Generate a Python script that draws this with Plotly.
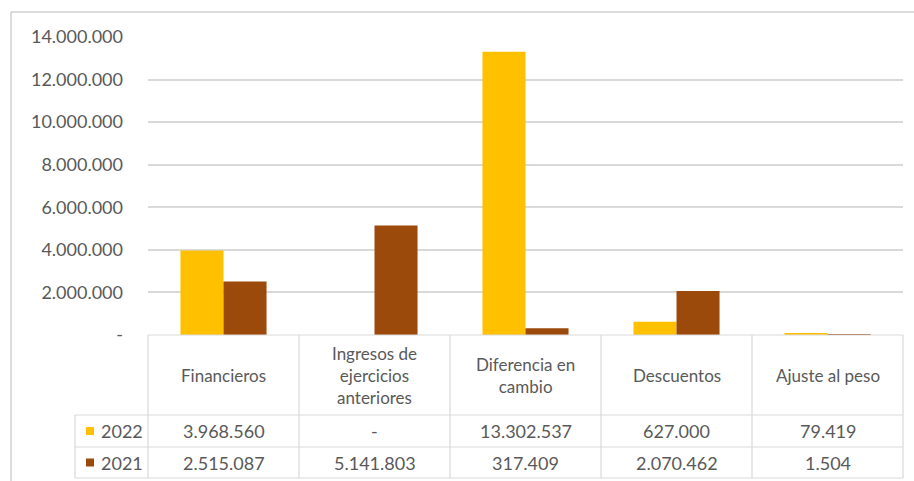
import plotly.graph_objects as go

categories = ['Financieros', 'Ingresos de ejercicios anteriores', 'Diferencia en cambio',
              'Descuentos', 'Ajuste al peso']
header_labels = ['Financieros', 'Ingresos de<br>ejercicios<br>anteriores', 'Diferencia en<br>cambio',
                 'Descuentos', 'Ajuste al peso']
years = ['2022', '2021']
values_2022 = [3968560, 0, 13302537, 627000, 79419]
values_2021 = [2515087, 5141803, 317409, 2070462, 1504]
colors = ['#FFC000', '#9C4A0C']
y_ticks = [0, 2000000, 4000000, 6000000, 8000000, 10000000, 12000000, 14000000]

W, H = 914, 481
FONT = 'Lato, Calibri, sans-serif'
TXT = '#595959'
GRID = '#D9D9D9'
FS = 18


def fmt(v):
    return '-' if v == 0 else f'{v:,}'.replace(',', '.')


def px(x):
    return x / W


def py(y):
    return 1 - y / H


# plot area in pixels
X0, X1 = 148, 903
Y_TOP, Y_ZERO = 37, 335
ROW1, ROW2, ROW3 = 415, 447, 478
LEG_X = 75

fig = go.Figure()
for name, vals, c in zip(years, [values_2022, values_2021], colors):
    fig.add_trace(go.Bar(x=categories, y=vals, name=name, marker=dict(color=c, line=dict(width=0))))

fig.update_layout(
    width=W, height=H,
    margin=dict(l=0, r=0, t=0, b=0, pad=0),
    paper_bgcolor='white', plot_bgcolor='white',
    barmode='group', bargap=0.43, bargroupgap=0,
    showlegend=False,
    font=dict(family=FONT, color=TXT, size=FS),
    xaxis=dict(domain=[px(X0), px(X1)], showticklabels=False, showgrid=False, automargin=False,
               zeroline=False, showline=False, ticks=''),
    yaxis=dict(domain=[py(Y_ZERO), py(Y_TOP)], range=[0, 14000000], automargin=False,
               tickvals=y_ticks, ticktext=[fmt(v) for v in y_ticks],
               showgrid=True, gridcolor=GRID, gridwidth=1.5, zeroline=False,
               ticks='', ticklabelstandoff=24, tickfont=dict(size=FS, color=TXT)),
)

shapes = []
line = dict(color=GRID, width=1.2)
# outer chart frame
shapes.append(dict(type='line', xref='paper', yref='paper', x0=px(11), x1=1, y0=py(12), y1=py(12),
                   line=dict(color='#D0D0D0', width=1.5)))
shapes.append(dict(type='line', xref='paper', yref='paper', x0=px(11), x1=px(11), y0=py(12), y1=0,
                   line=dict(color='#D0D0D0', width=1.5)))
# data table grid
shapes.append(dict(type='line', xref='paper', yref='paper', x0=px(X0), x1=px(X1),
                   y0=py(Y_ZERO), y1=py(Y_ZERO), line=line))
for yy in (ROW1, ROW2, ROW3):
    shapes.append(dict(type='line', xref='paper', yref='paper', x0=px(LEG_X), x1=px(X1),
                       y0=py(yy), y1=py(yy), line=line))
col_w = (X1 - X0) / len(categories)
for i in range(len(categories) + 1):
    xx = X0 + i * col_w
    shapes.append(dict(type='line', xref='paper', yref='paper', x0=px(xx), x1=px(xx),
                       y0=py(Y_ZERO), y1=py(ROW3), line=line))
shapes.append(dict(type='line', xref='paper', yref='paper', x0=px(LEG_X), x1=px(LEG_X),
                   y0=py(ROW1), y1=py(ROW3), line=line))

annotations = []
for i, lab in enumerate(header_labels):
    cx = X0 + (i + 0.5) * col_w
    annotations.append(dict(xref='paper', yref='paper', x=px(cx), y=py((Y_ZERO + ROW1) / 2),
                            text=lab, showarrow=False, font=dict(size=FS - 1, color=TXT),
                            xanchor='center', yanchor='middle', align='center'))

rows = [(ROW1, ROW2), (ROW2, ROW3)]
for (ya, yb), name, vals, c in zip(rows, years, [values_2022, values_2021], colors):
    ym = (ya + yb) / 2
    shapes.append(dict(type='rect', xref='paper', yref='paper', x0=px(86), x1=px(94),
                       y0=py(ym - 4), y1=py(ym + 4), fillcolor=c, line=dict(width=0)))
    annotations.append(dict(xref='paper', yref='paper', x=px(99), y=py(ym), text=name,
                            showarrow=False, font=dict(size=FS, color=TXT),
                            xanchor='left', yanchor='middle'))
    for i, v in enumerate(vals):
        cx = X0 + (i + 0.5) * col_w
        annotations.append(dict(xref='paper', yref='paper', x=px(cx), y=py(ym), text=fmt(v),
                                showarrow=False, font=dict(size=FS, color=TXT),
                                xanchor='center', yanchor='middle'))

fig.update_layout(shapes=shapes, annotations=annotations)

# drop the default page margin so the figure sits at the top-left corner
fix = "document.body.style.margin='0';document.body.style.overflow='hidden';"
fig.write_html("out.html", config={'displayModeBar': False}, post_script=fix)
